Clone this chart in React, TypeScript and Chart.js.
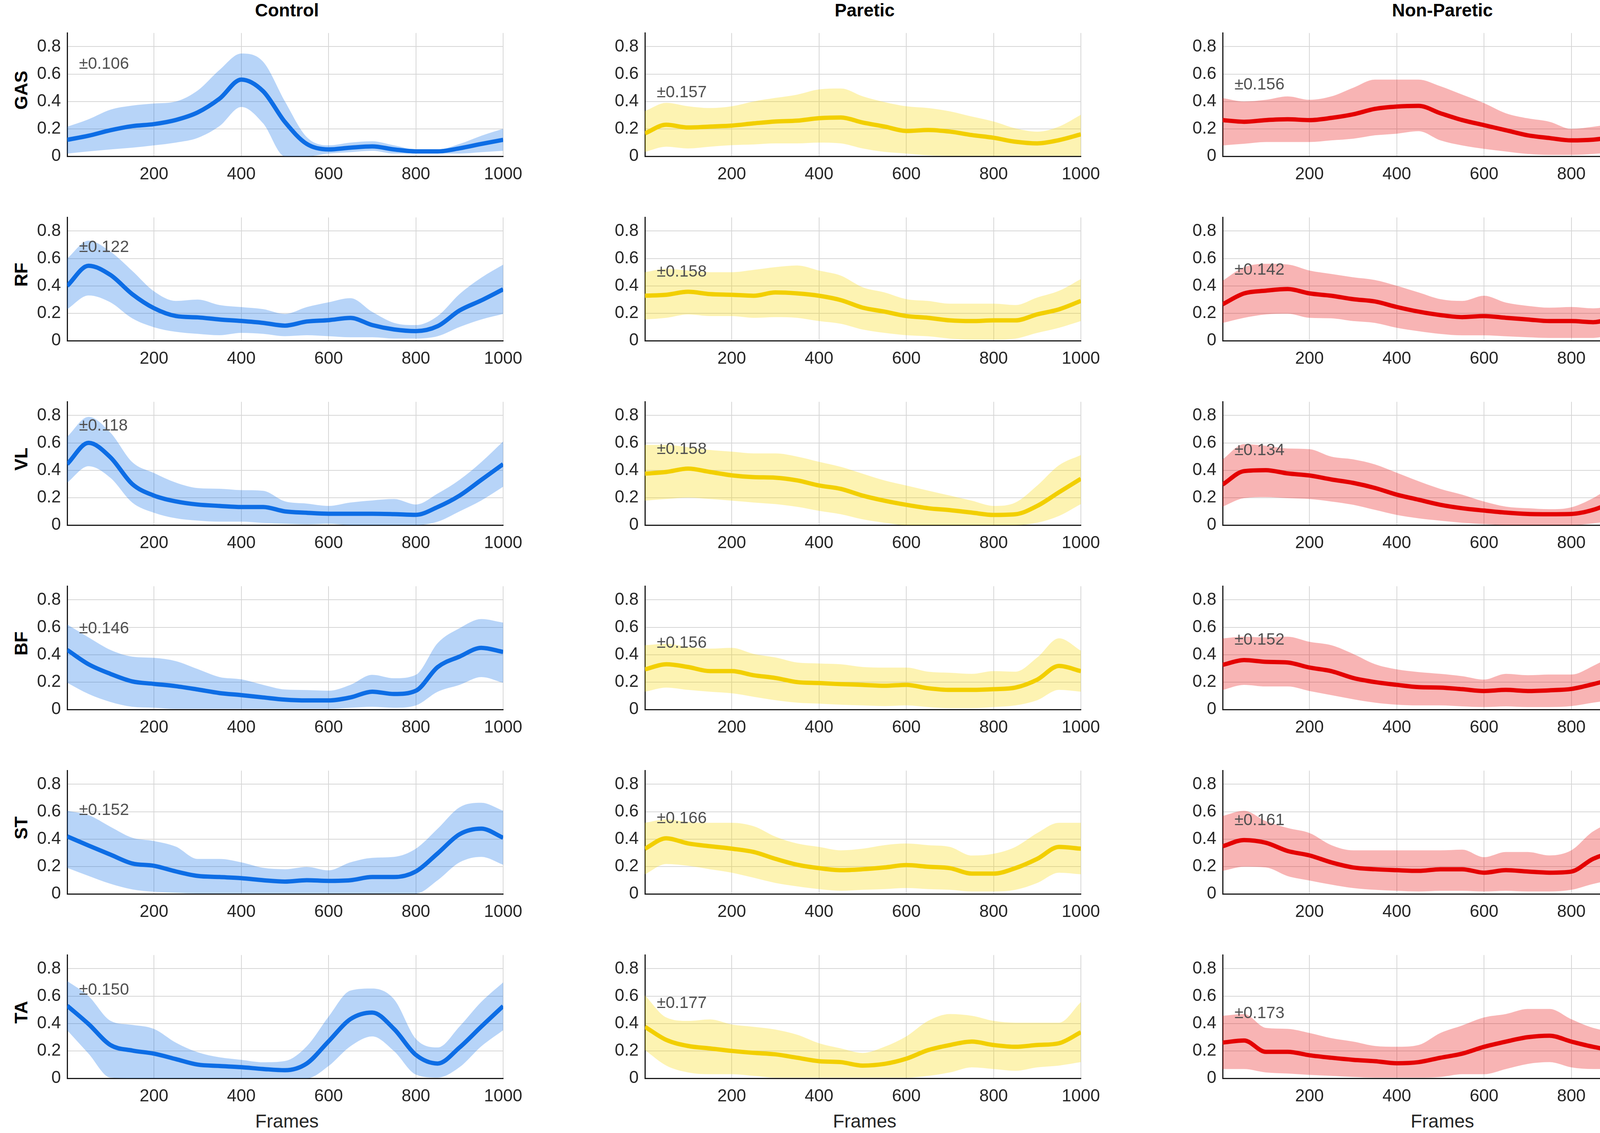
import { useEffect, useRef } from 'react';
import { Chart, registerables } from 'chart.js';

Chart.register(...registerables);

// sample frames (every 50 frames of the normalised cycle)
const frames = [1, 50, 100, 150, 200, 250, 300, 350, 400, 450, 500, 550, 600, 650, 700, 750, 800, 850, 900, 950, 1000];
const xTicks = [200, 400, 600, 800, 1000];
const yTicks = [0, 0.2, 0.4, 0.6, 0.8];

const groups = ['Control', 'Paretic', 'Non-Paretic'];
const muscles = ['GAS', 'RF', 'VL', 'BF', 'ST', 'TA'];

// ---- Control ----
const controlGasMean = [0.12, 0.15, 0.19, 0.22, 0.235, 0.265, 0.32, 0.42, 0.56, 0.475, 0.25, 0.09, 0.05, 0.063, 0.072, 0.05, 0.036, 0.036, 0.058, 0.09, 0.12];
const controlGasUpper = [0.215, 0.27, 0.34, 0.37, 0.385, 0.4, 0.48, 0.63, 0.75, 0.69, 0.4, 0.14, 0.08, 0.1, 0.11, 0.08, 0.05, 0.05, 0.09, 0.15, 0.2];
const controlGasLower = [0.02, 0.036, 0.05, 0.063, 0.08, 0.1, 0.134, 0.22, 0.36, 0.24, 0.0, 0.0, 0.02, 0.03, 0.04, 0.02, 0.02, 0.02, 0.02, 0.03, 0.04];

const controlRfMean = [0.4, 0.547, 0.48, 0.34, 0.237, 0.18, 0.17, 0.155, 0.144, 0.13, 0.11, 0.14, 0.15, 0.166, 0.114, 0.082, 0.07, 0.106, 0.22, 0.294, 0.375];
const controlRfUpper = [0.6, 0.73, 0.65, 0.51, 0.36, 0.29, 0.3, 0.26, 0.245, 0.23, 0.195, 0.245, 0.28, 0.31, 0.21, 0.13, 0.114, 0.18, 0.34, 0.46, 0.555];
const controlRfLower = [0.23, 0.33, 0.28, 0.163, 0.098, 0.065, 0.05, 0.04, 0.057, 0.05, 0.033, 0.04, 0.033, 0.025, 0.025, 0.016, 0.016, 0.033, 0.1, 0.155, 0.195];

const controlVlMean = [0.445, 0.6, 0.495, 0.3, 0.215, 0.173, 0.15, 0.14, 0.132, 0.132, 0.1, 0.09, 0.083, 0.083, 0.083, 0.08, 0.075, 0.132, 0.215, 0.33, 0.445];
const controlVlUpper = [0.645, 0.79, 0.675, 0.46, 0.38, 0.31, 0.27, 0.265, 0.255, 0.25, 0.173, 0.157, 0.14, 0.165, 0.18, 0.19, 0.15, 0.23, 0.33, 0.46, 0.61];
const controlVlLower = [0.31, 0.43, 0.345, 0.165, 0.09, 0.05, 0.033, 0.025, 0.025, 0.016, 0.01, 0.005, 0.01, 0, 0, 0, 0, 0.025, 0.1, 0.18, 0.28];

const controlBfMean = [0.435, 0.33, 0.26, 0.205, 0.187, 0.17, 0.146, 0.12, 0.105, 0.088, 0.072, 0.066, 0.066, 0.088, 0.13, 0.113, 0.137, 0.31, 0.386, 0.45, 0.42];
const controlBfUpper = [0.62, 0.526, 0.435, 0.386, 0.377, 0.353, 0.295, 0.237, 0.22, 0.18, 0.146, 0.142, 0.137, 0.18, 0.253, 0.228, 0.253, 0.485, 0.593, 0.66, 0.634];
const controlBfLower = [0.195, 0.113, 0.055, 0.02, 0.013, 0.005, 0.005, 0.005, 0.005, 0.005, 0.005, 0.005, 0.005, 0.013, 0.02, 0.013, 0.03, 0.13, 0.18, 0.237, 0.195];

const controlStMean = [0.42, 0.353, 0.287, 0.222, 0.205, 0.164, 0.131, 0.123, 0.115, 0.1, 0.09, 0.1, 0.095, 0.1, 0.123, 0.123, 0.164, 0.296, 0.435, 0.476, 0.41];
const controlStUpper = [0.607, 0.575, 0.49, 0.41, 0.386, 0.345, 0.255, 0.255, 0.23, 0.19, 0.18, 0.197, 0.172, 0.23, 0.263, 0.27, 0.33, 0.476, 0.632, 0.665, 0.607];
const controlStLower = [0.19, 0.131, 0.074, 0.033, 0.016, 0.008, 0.003, 0.003, 0.003, 0.003, 0.003, 0.003, 0.003, 0.003, 0.003, 0.003, 0.003, 0.1, 0.23, 0.27, 0.213];

const controlTaMean = [0.53, 0.396, 0.243, 0.203, 0.18, 0.14, 0.1, 0.09, 0.081, 0.068, 0.059, 0.108, 0.27, 0.432, 0.48, 0.36, 0.171, 0.108, 0.225, 0.378, 0.527];
const controlTaUpper = [0.71, 0.6, 0.42, 0.39, 0.36, 0.26, 0.19, 0.153, 0.135, 0.117, 0.126, 0.234, 0.45, 0.64, 0.655, 0.577, 0.288, 0.225, 0.378, 0.558, 0.7];
const controlTaLower = [0.351, 0.18, 0.005, 0, 0, 0, 0, 0, 0, 0, 0, 0, 0.09, 0.234, 0.306, 0.198, 0.027, 0.005, 0.081, 0.234, 0.351];

// ---- Paretic ----
const pareticGasMean = [0.167, 0.23, 0.21, 0.217, 0.224, 0.24, 0.254, 0.26, 0.278, 0.283, 0.246, 0.217, 0.185, 0.192, 0.18, 0.155, 0.135, 0.106, 0.094, 0.118, 0.16];
const pareticGasUpper = [0.33, 0.39, 0.365, 0.352, 0.365, 0.4, 0.426, 0.45, 0.488, 0.495, 0.438, 0.396, 0.365, 0.352, 0.328, 0.29, 0.254, 0.204, 0.18, 0.217, 0.303];
const pareticGasLower = [0.032, 0.07, 0.057, 0.07, 0.081, 0.086, 0.094, 0.094, 0.1, 0.094, 0.057, 0.032, 0.02, 0.007, 0.003, 0.003, 0.003, 0.003, 0.003, 0.003, 0.003];

const pareticRfMean = [0.328, 0.335, 0.357, 0.34, 0.335, 0.328, 0.352, 0.345, 0.328, 0.296, 0.241, 0.212, 0.18, 0.167, 0.148, 0.143, 0.148, 0.148, 0.192, 0.229, 0.29];
const pareticRfUpper = [0.5, 0.525, 0.512, 0.5, 0.5, 0.517, 0.537, 0.549, 0.512, 0.475, 0.39, 0.352, 0.303, 0.29, 0.27, 0.27, 0.27, 0.26, 0.315, 0.364, 0.45];
const pareticRfLower = [0.155, 0.167, 0.192, 0.18, 0.18, 0.167, 0.172, 0.167, 0.143, 0.123, 0.081, 0.057, 0.04, 0.032, 0.015, 0.007, 0.007, 0.015, 0.057, 0.094, 0.143];

const pareticVlMean = [0.375, 0.388, 0.412, 0.388, 0.363, 0.35, 0.346, 0.326, 0.289, 0.264, 0.215, 0.178, 0.148, 0.123, 0.109, 0.091, 0.074, 0.079, 0.14, 0.24, 0.338];
const pareticVlUpper = [0.585, 0.585, 0.568, 0.548, 0.536, 0.523, 0.523, 0.5, 0.462, 0.425, 0.375, 0.326, 0.289, 0.252, 0.215, 0.178, 0.14, 0.165, 0.289, 0.437, 0.511];
const pareticVlLower = [0.178, 0.19, 0.2, 0.19, 0.178, 0.165, 0.153, 0.133, 0.104, 0.079, 0.042, 0.017, 0, 0, 0, 0, 0, 0, 0.017, 0.067, 0.153];

const pareticBfMean = [0.293, 0.33, 0.31, 0.28, 0.28, 0.25, 0.23, 0.2, 0.193, 0.185, 0.18, 0.173, 0.18, 0.155, 0.143, 0.143, 0.148, 0.16, 0.218, 0.318, 0.28];
const pareticBfUpper = [0.469, 0.48, 0.456, 0.444, 0.45, 0.406, 0.38, 0.343, 0.336, 0.33, 0.31, 0.306, 0.306, 0.276, 0.268, 0.26, 0.28, 0.276, 0.38, 0.52, 0.43];
const pareticBfLower = [0.13, 0.16, 0.143, 0.13, 0.118, 0.093, 0.068, 0.05, 0.043, 0.035, 0.03, 0.025, 0.03, 0.018, 0.01, 0.01, 0.018, 0.03, 0.068, 0.143, 0.13];

const pareticStMean = [0.33, 0.406, 0.368, 0.348, 0.33, 0.306, 0.256, 0.213, 0.188, 0.173, 0.18, 0.193, 0.21, 0.198, 0.188, 0.148, 0.148, 0.188, 0.256, 0.343, 0.33];
const pareticStUpper = [0.519, 0.544, 0.524, 0.519, 0.519, 0.494, 0.418, 0.368, 0.343, 0.318, 0.33, 0.356, 0.368, 0.356, 0.343, 0.28, 0.293, 0.343, 0.444, 0.519, 0.519];
const pareticStLower = [0.143, 0.218, 0.205, 0.18, 0.155, 0.118, 0.08, 0.055, 0.035, 0.023, 0.03, 0.035, 0.043, 0.035, 0.03, 0.018, 0.018, 0.03, 0.08, 0.155, 0.143];

const pareticTaMean = [0.376, 0.28, 0.236, 0.218, 0.2, 0.186, 0.175, 0.15, 0.125, 0.118, 0.093, 0.105, 0.143, 0.206, 0.243, 0.268, 0.243, 0.23, 0.243, 0.256, 0.336];
const pareticTaUpper = [0.606, 0.444, 0.419, 0.43, 0.393, 0.376, 0.356, 0.318, 0.256, 0.218, 0.185, 0.23, 0.306, 0.419, 0.469, 0.456, 0.419, 0.406, 0.406, 0.406, 0.556];
const pareticTaLower = [0.206, 0.093, 0.043, 0.03, 0.03, 0.018, 0.005, 0.005, 0.005, 0.005, 0.005, 0.005, 0.005, 0.018, 0.043, 0.08, 0.068, 0.055, 0.08, 0.093, 0.118];

// ---- Non-Paretic ----
const nonGasMean = [0.264, 0.252, 0.264, 0.27, 0.264, 0.28, 0.306, 0.346, 0.363, 0.368, 0.314, 0.264, 0.227, 0.19, 0.153, 0.133, 0.116, 0.121, 0.14, 0.153, 0.252];
const nonGasUpper = [0.425, 0.4, 0.412, 0.437, 0.412, 0.437, 0.5, 0.56, 0.56, 0.56, 0.511, 0.45, 0.388, 0.314, 0.277, 0.252, 0.2, 0.215, 0.24, 0.264, 0.437];
const nonGasLower = [0.079, 0.091, 0.104, 0.104, 0.104, 0.116, 0.128, 0.153, 0.165, 0.183, 0.116, 0.079, 0.054, 0.035, 0.017, 0.01, 0.01, 0.017, 0.03, 0.042, 0.079];

const nonRfMean = [0.266, 0.345, 0.365, 0.377, 0.345, 0.328, 0.303, 0.286, 0.246, 0.212, 0.187, 0.172, 0.18, 0.167, 0.155, 0.143, 0.143, 0.135, 0.167, 0.205, 0.271];
const nonRfUpper = [0.438, 0.536, 0.561, 0.556, 0.512, 0.487, 0.463, 0.443, 0.401, 0.352, 0.303, 0.29, 0.328, 0.278, 0.254, 0.241, 0.246, 0.236, 0.266, 0.328, 0.426];
const nonRfLower = [0.13, 0.167, 0.192, 0.197, 0.167, 0.163, 0.143, 0.13, 0.094, 0.069, 0.049, 0.039, 0.039, 0.032, 0.025, 0.02, 0.02, 0.02, 0.049, 0.074, 0.118];

const nonVlMean = [0.296, 0.394, 0.401, 0.377, 0.362, 0.333, 0.308, 0.271, 0.222, 0.185, 0.148, 0.123, 0.106, 0.091, 0.081, 0.079, 0.081, 0.111, 0.172, 0.222, 0.308];
const nonVlUpper = [0.48, 0.591, 0.579, 0.559, 0.554, 0.5, 0.48, 0.443, 0.382, 0.32, 0.264, 0.222, 0.172, 0.135, 0.123, 0.116, 0.13, 0.197, 0.296, 0.37, 0.505];
const nonVlLower = [0.135, 0.197, 0.204, 0.197, 0.19, 0.172, 0.148, 0.111, 0.074, 0.049, 0.032, 0.017, 0.007, 0, 0, 0, 0, 0.012, 0.037, 0.074, 0.111];

const nonBfMean = [0.326, 0.361, 0.348, 0.343, 0.306, 0.28, 0.23, 0.2, 0.18, 0.163, 0.16, 0.148, 0.135, 0.143, 0.135, 0.14, 0.15, 0.185, 0.23, 0.293, 0.31];
const nonBfUpper = [0.519, 0.531, 0.526, 0.531, 0.494, 0.469, 0.406, 0.331, 0.293, 0.273, 0.26, 0.243, 0.218, 0.26, 0.25, 0.255, 0.255, 0.318, 0.406, 0.506, 0.506];
const nonBfLower = [0.143, 0.18, 0.168, 0.168, 0.135, 0.105, 0.075, 0.05, 0.035, 0.03, 0.03, 0.023, 0.018, 0.023, 0.018, 0.018, 0.025, 0.05, 0.075, 0.11, 0.125];

const nonStMean = [0.348, 0.393, 0.373, 0.313, 0.281, 0.23, 0.193, 0.18, 0.173, 0.168, 0.18, 0.18, 0.155, 0.173, 0.163, 0.155, 0.163, 0.256, 0.306, 0.326, 0.343];
const nonStUpper = [0.569, 0.607, 0.531, 0.481, 0.444, 0.356, 0.318, 0.318, 0.318, 0.318, 0.318, 0.323, 0.268, 0.306, 0.306, 0.281, 0.318, 0.456, 0.519, 0.519, 0.531];
const nonStLower = [0.168, 0.198, 0.193, 0.13, 0.098, 0.068, 0.043, 0.03, 0.023, 0.018, 0.023, 0.023, 0.018, 0.023, 0.018, 0.018, 0.03, 0.073, 0.105, 0.123, 0.148];

const nonTaMean = [0.261, 0.276, 0.193, 0.193, 0.168, 0.15, 0.135, 0.125, 0.11, 0.118, 0.15, 0.18, 0.23, 0.268, 0.3, 0.311, 0.268, 0.23, 0.206, 0.243, 0.268];
const nonTaUpper = [0.456, 0.469, 0.368, 0.361, 0.331, 0.293, 0.268, 0.236, 0.23, 0.243, 0.331, 0.386, 0.444, 0.469, 0.506, 0.506, 0.431, 0.368, 0.343, 0.406, 0.469];
const nonTaLower = [0.068, 0.068, 0.043, 0.035, 0.025, 0.018, 0.01, 0.005, 0.005, 0.005, 0.01, 0.03, 0.03, 0.068, 0.105, 0.118, 0.08, 0.068, 0.068, 0.068, 0.055];

// ±SD annotations and the height they sit at
const controlSd = ['±0.106', '±0.122', '±0.118', '±0.146', '±0.152', '±0.150'];
const pareticSd = ['±0.157', '±0.158', '±0.158', '±0.156', '±0.166', '±0.177'];
const nonSd = ['±0.156', '±0.142', '±0.134', '±0.152', '±0.161', '±0.173'];
const controlSdY = [0.673, 0.68, 0.723, 0.59, 0.61, 0.642];
const pareticSdY = [0.463, 0.502, 0.551, 0.483, 0.55, 0.547];
const nonSdY = [0.522, 0.515, 0.543, 0.507, 0.534, 0.472];

const lineColors = ['rgb(12,108,228)', 'rgb(240,204,0)', 'rgb(226,0,0)'];
const bandColors = ['rgba(18,112,232,0.3)', 'rgba(250,215,0,0.3)', 'rgba(232,5,5,0.3)'];

const series = [
  [
    [controlGasMean, controlGasUpper, controlGasLower],
    [controlRfMean, controlRfUpper, controlRfLower],
    [controlVlMean, controlVlUpper, controlVlLower],
    [controlBfMean, controlBfUpper, controlBfLower],
    [controlStMean, controlStUpper, controlStLower],
    [controlTaMean, controlTaUpper, controlTaLower],
  ],
  [
    [pareticGasMean, pareticGasUpper, pareticGasLower],
    [pareticRfMean, pareticRfUpper, pareticRfLower],
    [pareticVlMean, pareticVlUpper, pareticVlLower],
    [pareticBfMean, pareticBfUpper, pareticBfLower],
    [pareticStMean, pareticStUpper, pareticStLower],
    [pareticTaMean, pareticTaUpper, pareticTaLower],
  ],
  [
    [nonGasMean, nonGasUpper, nonGasLower],
    [nonRfMean, nonRfUpper, nonRfLower],
    [nonVlMean, nonVlUpper, nonVlLower],
    [nonBfMean, nonBfUpper, nonBfLower],
    [nonStMean, nonStUpper, nonStLower],
    [nonTaMean, nonTaUpper, nonTaLower],
  ],
];
const sdText = [controlSd, pareticSd, nonSd];
const sdY = [controlSdY, pareticSdY, nonSdY];

// layout (px)
const COL_LEFT = [172, 1651, 3130];
const PLOT_W = 1125;
const PLOT_H = 338;
const BASE_Y0 = 400;
const ROW_STEP = 472;
const AXIS_W = 140;
const AXIS_H = 80;
const PAD_TOP = 20;
const PAD_RIGHT = 60;
const FONT = '"Liberation Sans", Arial, Helvetica, sans-serif';

const sdNotePlugin = {
  id: 'sdNote',
  afterDatasetsDraw(chart: any, _args: any, opts: any) {
    const { ctx, scales } = chart;
    ctx.save();
    ctx.font = `42px ${FONT}`;
    ctx.fillStyle = '#505050';
    ctx.textBaseline = 'middle';
    ctx.textAlign = 'left';
    ctx.fillText(opts.text, scales.x.getPixelForValue(opts.x), scales.y.getPixelForValue(opts.y));
    ctx.restore();
  },
};

const toPoints = (values: number[]) => frames.map((f, i) => ({ x: f, y: values[i] }));

interface PanelProps {
  col: number;
  row: number;
}

const Panel: React.FC<PanelProps> = ({ col, row }) => {
  const canvasRef = useRef<HTMLCanvasElement>(null);
  const width = AXIS_W + PLOT_W + PAD_RIGHT;
  const height = PAD_TOP + PLOT_H + AXIS_H;
  const base = BASE_Y0 + ROW_STEP * row;

  useEffect(() => {
    const canvas = canvasRef.current;
    if (!canvas) return;
    const [mean, upper, lower] = series[col][row];

    const chart = new Chart(canvas, {
      type: 'line',
      data: {
        datasets: [
          {
            data: toPoints(upper),
            borderWidth: 0,
            pointRadius: 0,
            backgroundColor: bandColors[col],
            fill: '+1',
            cubicInterpolationMode: 'monotone',
          },
          {
            data: toPoints(lower),
            borderWidth: 0,
            pointRadius: 0,
            fill: false,
            cubicInterpolationMode: 'monotone',
          },
          {
            data: toPoints(mean),
            borderColor: lineColors[col],
            borderWidth: 11,
            pointRadius: 0,
            fill: false,
            cubicInterpolationMode: 'monotone',
          },
        ],
      },
      options: {
        responsive: false,
        animation: false,
        events: [],
        layout: { padding: { top: PAD_TOP, right: PAD_RIGHT, left: 0, bottom: 0 } },
        plugins: {
          legend: { display: false },
          tooltip: { enabled: false },
          // @ts-ignore custom plugin options
          sdNote: { text: sdText[col][row], x: 28, y: sdY[col][row] },
        },
        scales: {
          x: {
            type: 'linear',
            min: 1,
            max: 1000,
            afterBuildTicks: (s: any) => {
              s.ticks = xTicks.map((v) => ({ value: v }));
            },
            afterFit: (s: any) => {
              s.height = AXIS_H;
            },
            ticks: {
              color: '#262626',
              font: { size: 44, family: FONT },
              padding: 20,
              maxRotation: 0,
              autoSkip: false,
              callback: (v: any) => String(v),
            },
            grid: { color: '#d6d6d6', lineWidth: 2, drawTicks: false },
            border: { color: '#1a1a1a', width: 3 },
          },
          y: {
            type: 'linear',
            min: 0,
            max: 0.9,
            afterBuildTicks: (s: any) => {
              s.ticks = yTicks.map((v) => ({ value: v }));
            },
            afterFit: (s: any) => {
              s.width = AXIS_W;
            },
            ticks: {
              color: '#262626',
              font: { size: 44, family: FONT },
              padding: 16,
              autoSkip: false,
              callback: (v: any) => String(v),
            },
            grid: { color: '#d6d6d6', lineWidth: 2, drawTicks: false },
            border: { color: '#1a1a1a', width: 3 },
          },
        },
      },
      plugins: [sdNotePlugin],
    } as any);

    return () => chart.destroy();
  }, [col, row]);

  return (
    <canvas
      ref={canvasRef}
      width={width}
      height={height}
      style={{
        position: 'absolute',
        left: COL_LEFT[col] - AXIS_W,
        top: base - PLOT_H - PAD_TOP,
        width,
        height,
      }}
    />
  );
};

const textBase: React.CSSProperties = {
  position: 'absolute',
  fontFamily: FONT,
  whiteSpace: 'nowrap',
  lineHeight: 1,
};

export default function App() {
  return (
    <div style={{ position: 'absolute', left: 0, top: 0, width: 4317, height: 2900, background: '#fff' }}>
      {groups.map((g, c) => (
        <div
          key={g}
          style={{
            ...textBase,
            left: COL_LEFT[c] + PLOT_W / 2,
            top: 26,
            transform: 'translate(-50%, -50%)',
            fontSize: 46,
            fontWeight: 'bold',
            color: '#000',
          }}
        >
          {g}
        </div>
      ))}
      {muscles.map((m, r) => (
        <div
          key={m}
          style={{
            ...textBase,
            left: 54,
            top: BASE_Y0 + ROW_STEP * r - PLOT_H / 2,
            transform: 'translate(-50%, -50%) rotate(-90deg)',
            fontSize: 46,
            fontWeight: 'bold',
            color: '#000',
          }}
        >
          {m}
        </div>
      ))}
      {groups.map((g, c) => (
        <div
          key={`frames-${g}`}
          style={{
            ...textBase,
            left: COL_LEFT[c] + PLOT_W / 2,
            top: 2870,
            transform: 'translate(-50%, -50%)',
            fontSize: 48,
            color: '#262626',
          }}
        >
          Frames
        </div>
      ))}
      {groups.map((g, c) => muscles.map((m, r) => <Panel key={`${g}-${m}`} col={c} row={r} />))}
    </div>
  );
}
